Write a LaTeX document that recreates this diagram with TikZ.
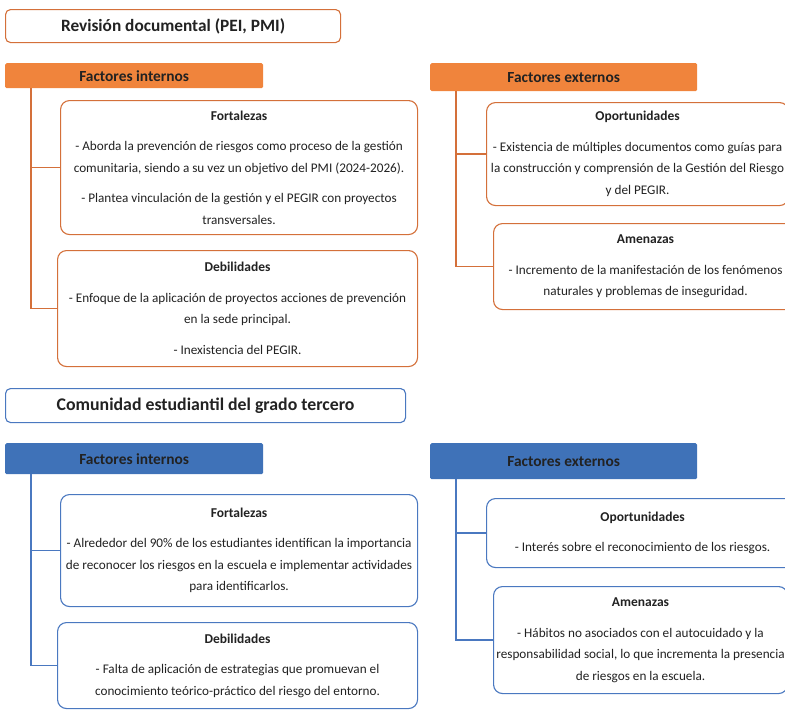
\documentclass[tikz,border=0pt]{standalone}
\usepackage{fontspec}
\setmainfont{Carlito}
\definecolor{orfill}{HTML}{F0843C}
\definecolor{orline}{HTML}{D4703A}
\definecolor{blfill}{HTML}{3F72B8}
\definecolor{blline}{HTML}{4A78C0}
\definecolor{txt}{HTML}{222222}
\tikzset{
  titlebox/.style={draw=#1, line width=1.1pt, fill=white, rounded corners=5pt, anchor=north west, inner sep=0pt, font=\fontsize{17.3}{20}\selectfont\bfseries, text=txt},
  headbar/.style={fill=#1, rounded corners=1.5pt, anchor=north west, inner sep=0pt, font=\fontsize{15.4}{18}\selectfont\bfseries, text=txt},
  contentbox/.style={draw=#1, line width=1.1pt, fill=white, rounded corners=9pt, anchor=north west, inner sep=0pt, align=center, font=\fontsize{13.2}{21.5}\selectfont, text=txt},
  conn/.style={draw=#1, line width=1.3pt}
}
\newcommand{\subt}[1]{{\fontsize{13.5}{16}\selectfont\bfseries #1}}
\begin{document}
\begin{tikzpicture}[x=1pt,y=-1pt]
\useasboundingbox (0,0) rectangle (785,710);
\clip (0,0) rectangle (785,710);
% ===== Top section (orange)
\node[titlebox=orline, minimum width=335pt, minimum height=33pt] (t1) at (5,9) {Revisión documental (PEI, PMI)};
\node[headbar=orfill, minimum width=258pt, minimum height=25pt] (fi1) at (5,63) {Factores internos};
\node[headbar=orfill, minimum width=267pt, minimum height=28pt] (fe1) at (430,63) {Factores externos};
\node[contentbox=orline, minimum width=357pt, minimum height=134pt] (fo1) at (60,100) {\subt{Fortalezas}\\[9pt]- Aborda la prevención de riesgos como proceso de la gestión\\comunitaria, siendo a su vez un objetivo del PMI (2024-2026).\\[9pt]- Plantea vinculación de la gestión y el PEGIR con proyectos\\transversales.};
\node[contentbox=orline, minimum width=360pt, minimum height=116pt] (de1) at (57,250) {\subt{Debilidades}\\[9pt]- Enfoque de la aplicación de proyectos acciones de prevención\\en la sede principal.\\[9pt]- Inexistencia del PEGIR.};
\node[contentbox=orline, minimum width=302pt, minimum height=103pt] (op1) at (486,102) {\subt{Oportunidades}\\[9pt]- Existencia de múltiples documentos como guías para\\la construcción y comprensión de la Gestión del Riesgo\\y del PEGIR.};
\node[contentbox=orline, minimum width=304pt, minimum height=86pt] (am1) at (493,223) {\subt{Amenazas}\\[9pt]- Incremento de la manifestación de los fenómenos\\naturales y problemas de inseguridad.};
\coordinate (v1) at (31,88);
\coordinate (v2) at (456,91);
\draw[conn=orline] (v1) |- (fo1.west);
\draw[conn=orline] (v1) |- (de1.west);
\draw[conn=orline] (v2) |- (op1.west);
\draw[conn=orline] (v2) |- (am1.west);
% ===== Bottom section (blue)
\node[titlebox=blline, minimum width=400pt, minimum height=34pt, font=\fontsize{17.8}{20}\selectfont\bfseries] (t2) at (5,388) {Comunidad estudiantil del grado tercero};
\node[headbar=blfill, minimum width=258pt, minimum height=31pt] (fi2) at (5,443) {Factores internos};
\node[headbar=blfill, minimum width=267pt, minimum height=36pt] (fe2) at (430,443) {Factores externos};
\node[contentbox=blline, minimum width=357pt, minimum height=112pt] (fo2) at (60,494) {\subt{Fortalezas}\\[9pt]- Alrededor del 90\% de los estudiantes identifican la importancia\\de reconocer los riesgos en la escuela e implementar actividades\\para identificarlos.};
\node[contentbox=blline, minimum width=360pt, minimum height=86pt] (de2) at (57,622) {\subt{Debilidades}\\[9pt]- Falta de aplicación de estrategias que promuevan el\\conocimiento teórico-práctico del riesgo del entorno.};
\node[contentbox=blline, minimum width=312pt, minimum height=69pt] (op2) at (486,498) {\subt{Oportunidades}\\[9pt]- Interés sobre el reconocimiento de los riesgos.};
\node[contentbox=blline, minimum width=294pt, minimum height=107pt] (am2) at (493,586) {\subt{Amenazas}\\[9pt]- Hábitos no asociados con el autocuidado y la\\responsabilidad social, lo que incrementa la presencia\\de riesgos en la escuela.};
\coordinate (v3) at (31,474);
\coordinate (v4) at (456,479);
\draw[conn=blline] (v3) |- (fo2.west);
\draw[conn=blline] (v3) |- (de2.west);
\draw[conn=blline] (v4) |- (op2.west);
\draw[conn=blline] (v4) |- (am2.west);
\end{tikzpicture}
\end{document}
